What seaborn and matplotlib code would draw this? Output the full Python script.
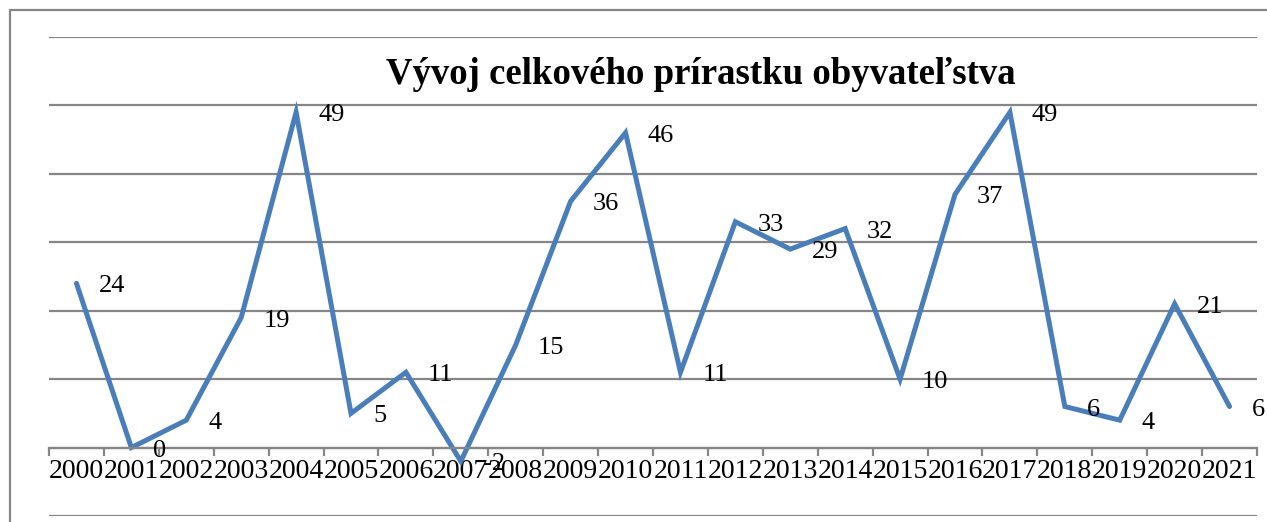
import matplotlib
matplotlib.use("Agg")
import matplotlib.pyplot as plt
import matplotlib.patches as mpatches
import seaborn as sns
import pandas as pd
import numpy as np

years = ["2000", "2001", "2002", "2003", "2004", "2005", "2006", "2007", "2008", "2009", "2010",
         "2011", "2012", "2013", "2014", "2015", "2016", "2017", "2018", "2019", "2020", "2021"]
values = [24, 0, 4, 19, 49, 5, 11, -2, 15, 36, 46, 11, 33, 29, 32, 10, 37, 49, 6, 4, 21, 6]
title = "Vývoj celkového prírastku obyvateľstva"

sns.set_theme(style="white")
plt.rcParams["font.family"] = ["Liberation Serif", "DejaVu Serif"]

W, H = 1267, 522
fig = plt.figure(figsize=(W / 100, H / 100), dpi=100)
ax = fig.add_axes([49 / W, 1 - 516 / H, (1257 - 49) / W, (516 - 37) / H])

df = pd.DataFrame({"pos": np.arange(len(years)), "value": values})
sns.lineplot(data=df, x="pos", y="value", ax=ax, color="#4A7EBB", linewidth=3.6,
             solid_joinstyle="miter")

ax.set_xlim(-0.5, len(years) - 0.5)
ax.set_ylim(-10, 60)
ax.set_yticks(np.arange(-10, 61, 10))
ax.yaxis.grid(True, color="#868686", linewidth=1.6)
ax.set_axisbelow(True)
ax.tick_params(axis="y", left=False, labelleft=False)

for s in ["top", "right", "left"]:
    ax.spines[s].set_visible(False)
ax.spines["bottom"].set_position(("data", 0))
ax.spines["bottom"].set_color("#868686")
ax.spines["bottom"].set_linewidth(1.6)

ax.set_xticks(np.arange(len(years)))
ax.set_xticklabels(years, fontsize=20)
ax.set_xticks(np.arange(-0.5, len(years)), minor=True)
ax.tick_params(axis="x", which="major", length=0, pad=8, labelcolor="black")
ax.tick_params(axis="x", which="minor", length=6, width=1.6, color="#868686", bottom=True)
ax.set_xlabel("")
ax.set_ylabel("")

for i, v in enumerate(values):
    ax.annotate(str(v), (i, v), xytext=(22, -3), textcoords="offset pixels",
                ha="left", va="center", fontsize=19, color="black")

fig.text(701 / W, 1 - 75 / H, title, ha="center", va="center", fontsize=26.5,
         fontweight="bold", color="black")

rect = mpatches.Rectangle((10 / W, -1), 2, 1 + (1 - 10 / H), transform=fig.transFigure,
                          fill=False, edgecolor="#868686", linewidth=1.6)
fig.patches.append(rect)

fig.savefig("out.png", dpi=100)
